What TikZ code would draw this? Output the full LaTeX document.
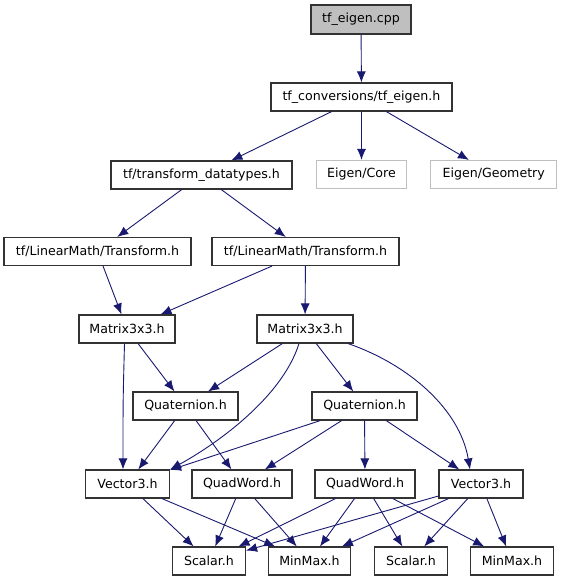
\documentclass[tikz,border=0pt]{standalone}
\usepackage{fontspec}
\setmainfont{DejaVu Sans}
\usetikzlibrary{arrows.meta}
\definecolor{edgec}{HTML}{191970}
\definecolor{cppfill}{HTML}{BFBFBF}
\definecolor{extborder}{HTML}{BFBFBF}
\begin{document}
\begin{tikzpicture}[x=1pt,y=-1pt,
  box/.style={draw=black!80, line width=1.1pt, minimum height=28pt, inner sep=0pt, fill=white, font=\fontsize{12.6}{14}\selectfont},
  extbox/.style={box, draw=extborder},
  curbox/.style={box, fill=cppfill},
  edge/.style={draw=edgec, line width=0.9pt, -{Latex[length=11pt,width=9pt]}}]
\useasboundingbox (0,0) rectangle (561,581);
\node[curbox, minimum width=100pt, minimum height=29pt] (cpp) at (361,19.5) {tf\_eigen.cpp};
\node[box, minimum width=181pt] (conv) at (361.5,97) {tf\_conversions/tf\_eigen.h};
\node[box, minimum width=181pt] (dt) at (201.5,175) {tf/transform\_datatypes.h};
\node[extbox, minimum width=90pt] (core) at (361.5,174.5) {Eigen/Core};
\node[extbox, minimum width=126pt] (geom) at (493.7,174.5) {Eigen/Geometry};
\node[box, minimum width=187pt] (tl) at (97.5,251.5) {tf/LinearMath/Transform.h};
\node[box, minimum width=187pt] (tr) at (305.5,251.5) {tf/LinearMath/Transform.h};
\node[box, minimum width=96pt] (ml) at (127,329) {Matrix3x3.h};
\node[box, minimum width=96pt] (mr) at (305,329) {Matrix3x3.h};
\node[box, minimum width=105pt] (ql) at (185.5,406) {Quaternion.h};
\node[box, minimum width=105pt] (qr) at (364.5,406) {Quaternion.h};
\node[box, minimum width=84pt] (vl) at (127.5,484) {Vector3.h};
\node[box, minimum width=100pt] (qwl) at (242,484) {QuadWord.h};
\node[box, minimum width=100pt] (qwr) at (365,484) {QuadWord.h};
\node[box, minimum width=84pt] (vr) at (481,484) {Vector3.h};
\node[box, minimum width=73pt] (sl) at (209,561) {Scalar.h};
\node[box, minimum width=82pt] (mml) at (309.5,561) {MinMax.h};
\node[box, minimum width=73pt] (sr) at (411,561) {Scalar.h};
\node[box, minimum width=83pt] (mmr) at (512,561) {MinMax.h};

\draw[edge] (cpp) -- (conv);
\draw[edge] (conv) -- (dt);
\draw[edge] (conv) -- (core);
\draw[edge] (conv) -- (geom);
\draw[edge] (dt) -- (tl);
\draw[edge] (dt) -- (tr);
\draw[edge] (tl) -- (ml);
\draw[edge] (tr) -- (ml);
\draw[edge] (tr) -- (mr);
\draw[edge] (ml) -- (ql);
\draw[edge] ([xshift=-2.5pt]ml.south) .. controls (123,400) .. ([xshift=-4.5pt]vl.north);
\draw[edge] (mr) -- (ql);
\draw[edge] (mr) -- (qr);
\draw[edge] ([xshift=-6pt]mr.south) .. controls (282,398) and (215,445) .. (vl.north east);
\draw[edge] ([xshift=43pt]mr.south) .. controls (410,365) and (460,410) .. ([xshift=-11pt]vr.north);
\draw[edge] (ql) -- (vl);
\draw[edge] (ql) -- (qwl);
\draw[edge] (qr) -- (vl);
\draw[edge] (qr) -- (qwl);
\draw[edge] (qr) -- (qwr);
\draw[edge] (qr) -- (vr);
\draw[edge] (vl) -- (sl);
\draw[edge] (vl) -- (mml);
\draw[edge] (qwl) -- (sl);
\draw[edge] (qwl) -- (mml);
\draw[edge] (qwr) -- (sl);
\draw[edge] (qwr) -- (mml);
\draw[edge] (qwr) -- (sr);
\draw[edge] (qwr) -- (mmr);
\draw[edge] (vr) -- (sl);
\draw[edge] (vr) -- (mml);
\draw[edge] (vr) -- (sr);
\draw[edge] (vr) -- (mmr);
\end{tikzpicture}
\end{document}
